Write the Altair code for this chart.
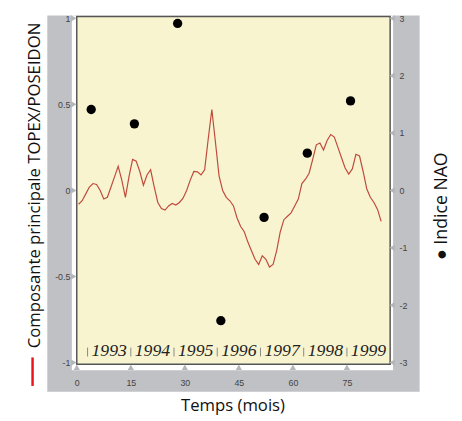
import altair as alt
import pandas as pd

# ---------------- data ----------------
topex = [-0.08, -0.06, -0.02, 0.02, 0.04, 0.035, 0.0, -0.05, -0.04, 0.02,
         0.08, 0.14, 0.06, -0.04, 0.08, 0.18, 0.17, 0.11, 0.03, 0.09,
         0.12, 0.02, -0.07, -0.105, -0.114, -0.09, -0.076, -0.085, -0.07, -0.045,
         0.0, 0.06, 0.11, 0.108, 0.09, 0.12, 0.30, 0.47, 0.28, 0.085,
         0.0, -0.04, -0.06, -0.09, -0.16, -0.21, -0.24, -0.30, -0.35, -0.40,
         -0.43, -0.38, -0.40, -0.445, -0.43, -0.35, -0.24, -0.17, -0.15, -0.13,
         -0.09, -0.05, 0.04, 0.065, 0.10, 0.18, 0.265, 0.275, 0.235, 0.29,
         0.325, 0.31, 0.25, 0.19, 0.13, 0.095, 0.125, 0.21, 0.20, 0.11,
         0.01, -0.04, -0.07, -0.11, -0.18]
months = [i + 0.5 for i in range(len(topex))]

nao_months = [4, 16, 28, 40, 52, 64, 76]
nao_values = [1.41, 1.16, 2.91, -2.27, -0.47, 0.65, 1.56]

years = ["1993", "1994", "1995", "1996", "1997", "1998", "1999"]
year_mid = [9, 21, 33, 45, 57, 69, 81]
year_bounds = [3, 15, 27, 39, 51, 63, 75]

x_ticks = [0, 15, 30, 45, 60, 75]
left_ticks = [-1, -0.5, 0, 0.5, 1]
right_ticks = [-3, -2, -1, 0, 1, 2, 3]

# ---------------- style ----------------
W, H = 319, 354
GRAY = "#bfc1c4"
TRI = "#b4b6b9"
YEL = "#f8f4d0"
RED = "#bf4a3c"
FONT = "Open Sans"

one = pd.DataFrame({"k": [0]})
df_line = pd.DataFrame({"month": months, "topex": topex})
df_nao = pd.DataFrame({"month": nao_months, "nao": nao_values})
df_years = pd.DataFrame({"mid": year_mid, "year": years})
df_bounds = pd.DataFrame({"b": year_bounds})
df_xt = pd.DataFrame({"v": x_ticks})
df_ylt = pd.DataFrame({"v": left_ticks})
df_yrt = pd.DataFrame({"v": right_ticks})

xs = alt.Scale(domain=[0, 87], nice=False)
yls = alt.Scale(domain=[-1.01, 1.01], nice=False)
yrs = alt.Scale(domain=[-3.03, 3.03], nice=False)

common = dict(title=None, domain=False, ticks=False, tickSize=0, grid=False,
              labelFontSize=9, labelColor="#444", labelFont="Liberation Sans",
              labelFlush=False, labelOverlap=False, labelExpr="'' + datum.value",
              zindex=1)
x_axis = alt.Axis(values=x_ticks, orient="bottom", labelPadding=15, **common)
yl_axis = alt.Axis(values=left_ticks, orient="left", labelPadding=7, **common)
yr_axis = alt.Axis(values=right_ticks, orient="right", labelPadding=9, **common)

X = lambda f: alt.X(f, scale=xs, axis=x_axis)
YL = lambda f: alt.Y(f, scale=yls, axis=yl_axis)
YR = lambda f: alt.Y(f, scale=yrs, axis=yr_axis)

gray = alt.Chart(one).mark_rect(color=GRAY).encode(
    x=alt.value(-30), x2=alt.value(W + 30), y=alt.value(-1), y2=alt.value(H + 28))
white = alt.Chart(one).mark_rect(color="white").encode(
    x=alt.value(-5), x2=alt.value(W + 3), y=alt.value(-1), y2=alt.value(H + 6))
panel = alt.Chart(one).mark_rect(fill=YEL, stroke="#555", strokeWidth=1.5).encode(
    x=alt.value(0), x2=alt.value(W), y=alt.value(0), y2=alt.value(H))

line = alt.Chart(df_line).mark_line(color=RED, strokeWidth=1.2).encode(
    x=X("month:Q"), y=YL("topex:Q"))

seps = alt.Chart(df_bounds).mark_rule(color="#888", strokeWidth=1).encode(
    x=X("b:Q"), y=alt.value(H - 17), y2=alt.value(H - 8))
yearlbl = alt.Chart(df_years).mark_text(
    font="Liberation Serif", fontStyle="italic", fontSize=18, color="#222",
    baseline="alphabetic").encode(x=X("mid:Q"), y=alt.value(H - 8), text="year:N")

ltri = alt.Chart(df_ylt).mark_point(shape="triangle-right", filled=True, size=40,
                                    color=TRI, opacity=1).encode(
    x=alt.value(-3), y=YL("v:Q"))
btri = alt.Chart(df_xt).mark_point(shape="triangle-up", filled=True, size=40,
                                   color=TRI, opacity=1).encode(
    x=X("v:Q"), y=alt.value(H + 3))

ltitle = alt.Chart(one).mark_text(text="Composante principale TOPEX/POSEIDON",
                                  angle=270, font=FONT, fontSize=17, color="#111",
                                  baseline="middle", align="center").encode(
    x=alt.value(-42), y=alt.value(172))
redmark = alt.Chart(one).mark_rule(color="#e8141b", strokeWidth=2.5).encode(
    x=alt.value(-45), y=alt.value(347), y2=alt.value(376))
rtitle = alt.Chart(one).mark_text(text="\u25cf Indice NAO", angle=270, font=FONT,
                                  fontSize=18, color="#111", baseline="middle",
                                  align="center").encode(
    x=alt.value(372), y=alt.value(193))
btitle = alt.Chart(one).mark_text(text="Temps (mois)", font=FONT, fontSize=17,
                                  color="#111", baseline="middle",
                                  align="center").encode(
    x=alt.value(159), y=alt.value(397))

points = alt.Chart(df_nao).mark_circle(color="black", size=90, opacity=1).encode(
    x=X("month:Q"), y=YR("nao:Q"))
rtri = alt.Chart(df_yrt).mark_point(shape="triangle-left", filled=True, size=40,
                                    color=TRI, opacity=1).encode(
    x=alt.value(W + 2), y=YR("v:Q"))

left_group = alt.layer(gray, white, panel, line, seps, yearlbl, ltri, btri,
                       ltitle, redmark, rtitle, btitle)
right_group = alt.layer(points, rtri)

chart = alt.layer(left_group, right_group).resolve_scale(y="independent").properties(
    width=W, height=H, autosize="none",
    padding={"left": 70, "top": 5, "right": 65, "bottom": 54},
    background="white",
).configure_view(stroke=None)

chart.save("out.html", embed_options={"renderer": "svg", "actions": False})
